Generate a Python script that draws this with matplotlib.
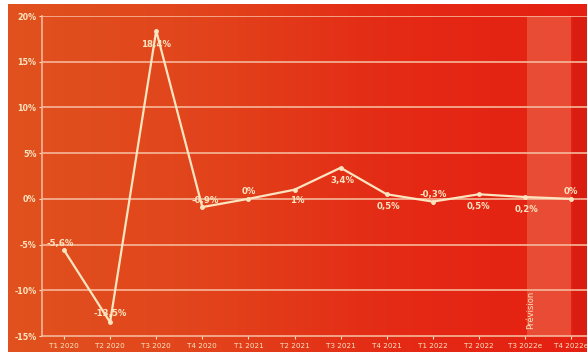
import numpy as np
import matplotlib.pyplot as plt
from matplotlib.colors import LinearSegmentedColormap

# quarterly growth, in %
quarters = ["T1 2020", "T2 2020", "T3 2020", "T4 2020", "T1 2021", "T2 2021",
            "T3 2021", "T4 2021", "T1 2022", "T2 2022", "T3 2022e", "T4 2022e"]
growth = [-5.6, -13.5, 18.4, -0.9, 0.0, 1.0, 3.4, 0.5, -0.3, 0.5, 0.2, 0.0]
point_labels = ["-5,6%", "-13,5%", "18,4%", "-0,9%", "0%", "1%",
                "3,4%", "0,5%", "-0,3%", "0,5%", "0,2%", "0%"]
y_ticks = [-15, -10, -5, 0, 5, 10, 15, 20]

# label offsets (points) relative to each point
offsets = [(-3, 5), (0, 6), (0, -10), (2, 5), (0, 5), (2, -8),
           (1, -9), (1, -9), (0, 5), (0, -9), (1, -9), (0, 5)]

cream = "#fbe4c0"
grid_col = "#f6b79a"

fig = plt.figure(figsize=(5.87, 3.58), dpi=100)

# orange -> red background behind the whole chart
bg = fig.add_axes([8 / 587, 6 / 358, 1 - 8 / 587, 1 - 10 / 358], zorder=-10)
cmap = LinearSegmentedColormap.from_list("bg", ["#e0521e", "#e2441c", "#e42a15", "#e52012"])
bg.imshow(np.linspace(0, 1, 256)[None, :], aspect="auto", cmap=cmap, extent=(0, 1, 0, 1))
bg.set_axis_off()

ax = fig.add_axes([42 / 587, 1 - 336 / 358, 1 - 42 / 587, 320 / 358])
ax.patch.set_alpha(0)

x = np.arange(len(quarters))
ax.set_xlim(-22 / 46.1, (587 - 64) / 46.1)
ax.set_ylim(-15, 20)

# forecast band
ax.axvspan(10.05, 11.0, color="#f08060", alpha=0.45, lw=0, zorder=0)
ax.axvspan(11.05, 11.4, color="#c81a10", alpha=0.35, lw=0, zorder=0)
ax.text(10.13, -14.2, "Prévision", rotation=90, color=cream, fontsize=6,
        ha="center", va="bottom", zorder=3)

for v in y_ticks[1:]:
    ax.axhline(v, color=grid_col, lw=1.2, zorder=1)

ax.plot(x, growth, color=cream, lw=1.6, marker="o", ms=2.5, zorder=4)

for xi, yi, lab, (dx, dy) in zip(x, growth, point_labels, offsets):
    ax.annotate(lab, (xi, yi), xytext=(dx, dy), textcoords="offset points",
                ha="center", va="center", fontsize=6.2, color=cream,
                fontweight="bold", zorder=5)

ax.set_xticks(x)
ax.set_xticklabels(quarters)
ax.set_yticks(y_ticks)
ax.set_yticklabels([f"{v}%" for v in y_ticks])
ax.tick_params(axis="x", colors=cream, labelsize=5.2, length=2, width=0.8, pad=3)
ax.tick_params(axis="y", colors=cream, labelsize=5.8, length=2, width=0.8, pad=2)
for lab in ax.get_yticklabels():
    lab.set_fontweight("bold")

for side in ["top", "right"]:
    ax.spines[side].set_visible(False)
for side in ["left", "bottom"]:
    ax.spines[side].set_color(grid_col)
    ax.spines[side].set_linewidth(1.2)

fig.savefig("out.png", dpi=100, facecolor="white")
